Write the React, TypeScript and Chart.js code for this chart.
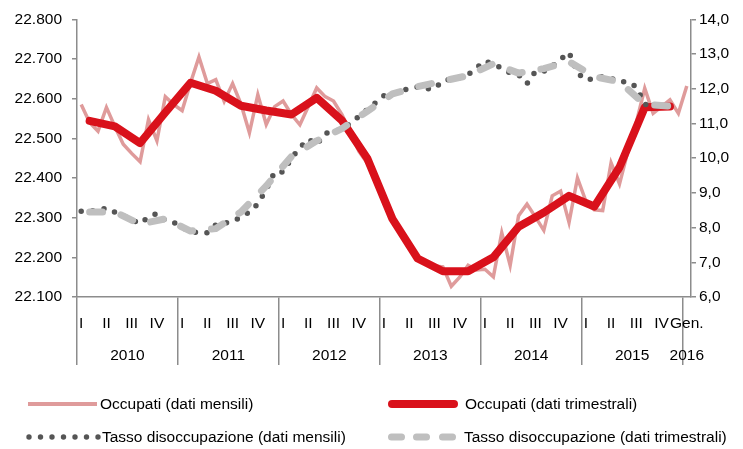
import React, { useEffect, useRef } from 'react';
import { Chart, registerables } from 'chart.js';

Chart.register(...registerables);

// ---- Data ----
const years = ['2010', '2011', '2012', '2013', '2014', '2015'];
const lastYear = '2016';
const lastMonthLabel = 'Gen.';
const quarterLabels = ['I', 'II', 'III', 'IV'];

// Occupati, dati mensili (migliaia) – gen 2010 … gen 2016
const occupatiMensili = [
  22585, 22540, 22518, 22578, 22530, 22485, 22462, 22441, 22547, 22494, 22605, 22585,
  22570, 22640, 22705, 22638, 22648, 22593, 22638, 22586, 22514, 22610, 22535, 22580,
  22594, 22560, 22534, 22580, 22627, 22605, 22594, 22560, 22515, 22468, 22438, 22392,
  22335, 22300, 22262, 22228, 22200, 22186, 22178, 22176, 22127, 22150, 22180, 22168,
  22170, 22151, 22262, 22180, 22305, 22334, 22302, 22268, 22355, 22367, 22288, 22400,
  22342, 22320, 22318, 22438, 22385, 22467, 22540, 22626, 22563, 22580, 22597, 22563,
  22632,
];

// Occupati, dati trimestrali (migliaia) – I 2010 … IV 2015
const occupatiTrimestrali = [
  22544, 22530, 22488, 22565,
  22640, 22620, 22582, 22570,
  22560, 22602, 22545, 22450,
  22297, 22197, 22165, 22165,
  22200, 22277, 22313, 22355,
  22328, 22427, 22578, 22580,
];

// Tasso di disoccupazione, dati mensili (%) – gen 2010 … dic 2015
const tassoMensili = [
  8.47, 8.48, 8.5, 8.56, 8.44, 8.35, 8.22, 8.11, 8.3, 8.41, 8.2, 8.15,
  8.0, 7.88, 7.86, 7.85, 8.08, 8.12, 8.18, 8.3, 8.45, 8.68, 9.1, 9.6,
  9.6, 10.0, 10.3, 10.55, 10.39, 10.72, 10.75, 10.85, 11.0, 11.2, 11.4, 11.6,
  11.8, 11.85, 11.95, 12.0, 12.05, 12.0, 12.0, 12.23, 12.28, 12.32, 12.4, 12.6,
  12.8, 12.7, 12.6, 12.45, 12.4, 12.15, 12.5, 12.5, 12.65, 12.85, 13.05, 12.45,
  12.25, 12.3, 12.35, 12.3, 12.2, 12.2, 12.05, 11.55, 11.5, 11.5, 11.5, 11.55,
];

// Tasso di disoccupazione, dati trimestrali (%) – I 2010 … IV 2015
const tassoTrimestrali = [
  8.45, 8.45, 8.1, 8.25,
  7.9, 7.97, 8.45, 9.2,
  10.05, 10.5, 10.85, 11.35,
  11.85, 12.06, 12.22, 12.38,
  12.72, 12.45, 12.58, 12.78,
  12.35, 12.2, 11.55, 11.5,
];

const legendLabels = [
  'Occupati (dati mensili)',
  'Occupati (dati trimestrali)',
  'Tasso disoccupazione (dati mensili)',
  'Tasso disoccupazione (dati trimestrali)',
];

// ---- Derived ----
const months: string[] = [];
years.forEach((y) => {
  for (let m = 1; m <= 12; m++) months.push(`${m}/${y}`);
});
months.push(`1/${lastYear}`);

const toMonthly = (q: number[]) =>
  months.map((_, i) => (i % 3 === 1 && (i - 1) / 3 < q.length ? q[(i - 1) / 3] : null));

// ---- Styles ----
const FONT = '"Liberation Sans", Arial, Helvetica, sans-serif';
const FONT_SIZE = 15.5;
const AXIS = '#8c8c8c';
const PINK = '#df9b9b';
const RED = '#d9111b';
const DOTS = '#555555';
const GREY = '#bfbfbf';

export default function App() {
  const ref = useRef<HTMLCanvasElement | null>(null);

  useEffect(() => {
    if (!ref.current) return;
    const chart = new Chart(ref.current, {
      type: 'line',
      data: {
        labels: months,
        datasets: [
          {
            label: legendLabels[3],
            data: toMonthly(tassoTrimestrali),
            yAxisID: 'y1',
            borderColor: GREY,
            borderWidth: 7,
            borderDash: [13, 19],
            borderCapStyle: 'round',
            borderJoinStyle: 'round',
            spanGaps: true,
            pointRadius: 0,
            order: 0,
          },
          {
            label: legendLabels[2],
            data: tassoMensili,
            yAxisID: 'y1',
            borderColor: DOTS,
            borderWidth: 5.5,
            borderDash: [0, 11.5],
            borderCapStyle: 'round',
            borderJoinStyle: 'round',
            pointRadius: 0,
            order: 1,
          },
          {
            label: legendLabels[1],
            data: toMonthly(occupatiTrimestrali),
            yAxisID: 'y',
            borderColor: RED,
            borderWidth: 8,
            borderCapStyle: 'round',
            borderJoinStyle: 'round',
            spanGaps: true,
            pointRadius: 0,
            order: 2,
          },
          {
            label: legendLabels[0],
            data: occupatiMensili,
            yAxisID: 'y',
            borderColor: PINK,
            borderWidth: 3.5,
            borderJoinStyle: 'miter',
            pointRadius: 0,
            order: 3,
          },
        ],
      },
      options: {
        responsive: false,
        animation: false,
        events: [],
        layout: { padding: { top: 17, bottom: 72, left: 0, right: 0 } },
        plugins: { legend: { display: false }, tooltip: { enabled: false } },
        scales: {
          x: {
            type: 'category',
            offset: true,
            weight: 0,
            border: { display: true, color: AXIS, width: 1.5 },
            grid: {
              drawOnChartArea: false,
              drawTicks: true,
              offset: true,
              tickLength: 68,
              lineWidth: 1.5,
              color: (ctx: any) =>
                ctx.index % 12 === 0 || ctx.index >= 72 ? AXIS : 'rgba(0,0,0,0)',
            },
            ticks: {
              autoSkip: false,
              maxRotation: 0,
              minRotation: 0,
              padding: -51,
              color: '#000',
              font: { family: FONT, size: FONT_SIZE },
              callback: (_v: any, i: number) =>
                i === 72 ? lastMonthLabel : i % 3 === 0 ? quarterLabels[(i % 12) / 3] : '',
            },
            afterFit: (s: any) => {
              s.height = 40;
            },
          },
          x2: {
            type: 'linear',
            position: 'bottom',
            weight: 1,
            min: 0,
            max: 73,
            grid: { display: false, drawTicks: false },
            border: { display: false },
            afterBuildTicks: (s: any) => {
              s.ticks = [...years.map((_, k) => ({ value: 6 + 12 * k })), { value: 72.5 }];
            },
            ticks: {
              autoSkip: false,
              maxRotation: 0,
              minRotation: 0,
              padding: 9,
              color: '#000',
              font: { family: FONT, size: FONT_SIZE },
              callback: (v: any) =>
                v === 72.5 ? lastYear : years[Math.round((Number(v) - 6) / 12)] ?? '',
            },
            afterFit: (s: any) => {
              s.height = 40;
            },
          },
          y: {
            position: 'left',
            min: 22100,
            max: 22800,
            border: { display: true, color: AXIS, width: 1.5 },
            grid: { drawOnChartArea: false, drawTicks: true, tickLength: 5, color: AXIS, lineWidth: 1.5 },
            ticks: {
              stepSize: 100,
              padding: 10,
              color: '#000',
              font: { family: FONT, size: FONT_SIZE },
              callback: (v: any) => {
                const n = Number(v);
                return `${Math.floor(n / 1000)}.${String(n % 1000).padStart(3, '0')}`;
              },
            },
            afterFit: (s: any) => {
              s.width = 77;
            },
          },
          y1: {
            position: 'right',
            min: 6,
            max: 14,
            border: { display: true, color: AXIS, width: 1.5 },
            grid: { drawOnChartArea: false, drawTicks: true, tickLength: 5, color: AXIS, lineWidth: 1.5 },
            ticks: {
              stepSize: 1,
              padding: 3,
              color: '#000',
              font: { family: FONT, size: FONT_SIZE },
              callback: (v: any) => Number(v).toFixed(1).replace('.', ','),
            },
            afterFit: (s: any) => {
              s.width = 52;
            },
          },
        },
      },
    } as any);
    return () => chart.destroy();
  }, []);

  const textStyle: React.CSSProperties = {
    position: 'absolute',
    fontFamily: FONT,
    fontSize: FONT_SIZE,
    color: '#000',
    lineHeight: '18px',
    whiteSpace: 'nowrap',
  };

  return (
    <div style={{ position: 'absolute', left: 0, top: 0, width: 743, height: 449, background: '#fff' }}>
      <canvas ref={ref} width={743} height={449} style={{ position: 'absolute', left: 0, top: 0 }} />
      <svg width={743} height={449} style={{ position: 'absolute', left: 0, top: 0 }}>
        <line x1={28} y1={404} x2={97} y2={404} stroke={PINK} strokeWidth={4} />
        <line x1={392} y1={404} x2={454} y2={404} stroke={RED} strokeWidth={8} strokeLinecap="round" />
        {[0, 1, 2, 3, 4, 5, 6].map((k) => (
          <circle key={k} cx={29 + k * 11.5} cy={437} r={2.7} fill={DOTS} />
        ))}
        {[391.5, 416.5, 442.5].map((x) => (
          <line key={x} x1={x} y1={437} x2={x + 10} y2={437} stroke={GREY} strokeWidth={7} strokeLinecap="round" />
        ))}
      </svg>
      <span style={{ ...textStyle, left: 100, top: 395 }}>{legendLabels[0]}</span>
      <span style={{ ...textStyle, left: 465, top: 395 }}>{legendLabels[1]}</span>
      <span style={{ ...textStyle, left: 102, top: 428 }}>{legendLabels[2]}</span>
      <span style={{ ...textStyle, left: 464, top: 428 }}>{legendLabels[3]}</span>
    </div>
  );
}
